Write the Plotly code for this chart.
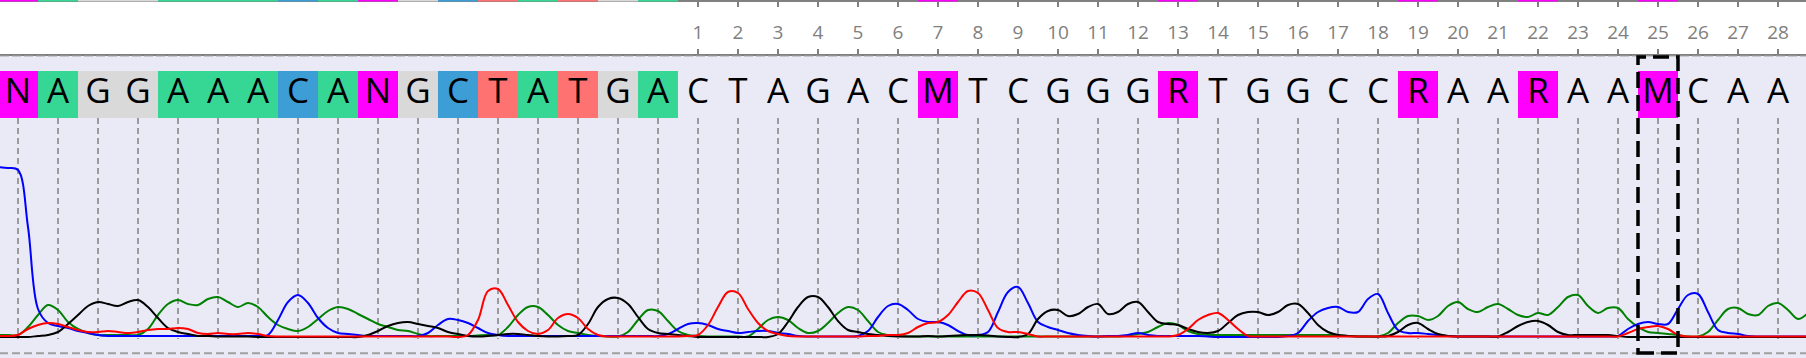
import numpy as np
import plotly.graph_objects as go

# ---------------- data ----------------
bases = list("NAGGAAACANGCTATGA" "CTAGACMTCGGGRTGGCCRAARAAMCAA")
positions = list(range(-16, 29))          # base-call positions; 1..28 are numbered on the ruler
ruler_ticks = list(range(1, 29))
ruler_labels = [str(t) for t in ruler_ticks]
selected_position = 25
scan_start = -16.5                        # position of first trace sample
scan_step = 0.25                          # trace sampling interval (in base positions)

signal_A = [2, 2,
    2, 10, 22, 32,  27, 15, 8, 4,  2, 2, 2, 2,  2, 8, 22, 33,  37, 33, 32, 38,
    40, 35, 30, 34,  30, 20, 12, 8,  6, 10, 18, 26,  30, 28, 23, 18,  13, 10, 7, 6,
    3, 1, 1, 1,  1, 1, 1.5, 2,  2, 10, 22, 30,  30, 22, 12, 6,  4, 2, 1, 0.5,
    0.5, 5, 17, 27,  26, 16, 6, 2,  1, 0.5, 0.5, 0.5,  0.5, 0.5, 8, 17,  20, 17, 9, 4,
    6, 14, 24, 30,  27, 16, 5, 2,  1, 0.5, 0.5, 0.5,  0.5, 0.5, 0.5, 0.5,  0.5, 0.5, 0.5, 0.5,
    0.5, 0.5, 0.5, 0.5,  0.5, 0.5, 0.5, 0.5,  0.5, 0.5, 0.5, 1.5,  3, 5, 10, 14,  12, 6, 3, 2,
    2, 2, 2, 2,  2, 2, 2, 2,  2, 2, 2, 2,  2, 1, 0.5, 0.5,  0.5, 4, 14, 21,
    21, 17, 21, 31,  35, 28, 25, 30,  33, 28, 22, 20,  24, 22, 30, 40,  42, 31, 24, 29,
    29, 18, 10, 5,  4, 3, 2, 0.5,  0.5, 5, 17, 28,  29, 23, 22, 31,  34, 27, 18, 24]

signal_C = [170, 169,
    167, 110, 28, 14,  11, 9, 6, 4,  2, 1, 1, 1,  1, 1, 1, 1,  1, 1, 1, 1,
    1, 1, 1, 1,  1, 2, 17, 35,  42, 34, 19, 9,  4, 3, 2, 1,  1, 1, 1, 1,
    1, 4, 12, 18,  17, 14, 9, 4,  2, 1, 1, 1,  1, 1, 1, 1,  1, 1, 1, 1,
    1, 1, 1, 1,  1, 3, 8, 13,  14, 12, 8, 6,  4, 5, 6, 6,  4, 3, 1, 0.5,
    0.5, 0.5, 0.5, 0.5,  1, 6, 20, 31,  33, 27, 18, 15,  15, 12, 6, 2,  2, 5, 25, 45,
    50, 34, 15, 10,  7, 4, 2, 1,  0.5, 1, 1, 2,  4, 2, 1, 1,  1, 1, 1, 0.5,
    0, 0, 0, 0,  0, 0, 0, 1,  4, 16, 25, 29,  30, 25, 25, 38,  43, 24, 7, 4,
    4, 3, 2, 1,  0.5, 0.5, 0.5, 0.5,  0.5, 0.5, 0.5, 0.5,  0.5, 0.5, 0.5, 0.5,  0.5, 0.5, 0.5, 0.5,
    1, 8, 13, 15,  13, 13, 28, 42,  43, 25, 7, 4,  3, 1, 0.5, 0.5,  0.5, 0.5, 0.5, 0.5]

signal_G = [0, 0,
    0, 0, 1, 2,  5, 13, 22, 31,  35, 33, 31, 35,  37, 30, 19, 9,  5, 3, 1, 1,
    0.5, 0.5, 0.5, 0.5,  0, 0, 0, 0,  0, 0, 0, 0,  0, 0, 0, 2,  6, 11, 14, 15,
    13, 11, 9, 5,  3, 1, 0.5, 1,  2, 3, 3, 2,  1, 0.5, 0.5, 1,  2, 13, 30, 38,
    39, 33, 20, 8,  4, 3, 2, 1,  0, 0, 0, 0,  0, 0, 0, 0,  3, 15, 30, 40,
    40, 30, 16, 7,  5, 3, 2, 1,  0.5, 0.5, 0.5, 1,  0.5, 1, 1.5, 2,  2, 1.5, 0.5, 0,
    0, 3, 18, 26,  27, 21, 23, 30,  33, 23, 25, 33,  35, 25, 15, 13,  12, 8, 5, 4,
    6, 14, 22, 25,  25, 22, 25, 32,  33, 24, 12, 5,  2, 1, 0.5, 0.5,  0.5, 1, 5, 12,
    14, 8, 3, 1,  0.5, 0.5, 0.5, 0.5,  0.5, 5, 11, 15,  16, 12, 5, 2,  2, 2, 2, 2,
    1, 0, 0, 0,  0, 0, 0, 0,  0, 0, 0, 0,  0, 0, 0, 0,  0, 0, 0, 0]

signal_T = [1, 1,
    2, 8, 12, 14,  13, 10, 7, 5,  5, 6, 5, 4,  5, 7, 8, 8,  9, 8, 4, 3,
    4, 3, 3, 4,  3, 1, 0.5, 0.5,  0.5, 0.5, 0.5, 0.5,  0.5, 0.5, 0.5, 0.5,  0.5, 0.5, 0.5, 0.5,
    0.5, 0.5, 0.5, 0.5,  0, 2, 17, 46,  48, 32, 15, 6,  3, 7, 19, 23,  19, 8, 2, 0.5,
    0.5, 0.5, 0.5, 0.5,  0.5, 0.5, 0.5, 1,  2, 12, 30, 45,  44, 28, 14, 6,  3, 1, 0.5, 0.5,
    0.5, 0.5, 0.5, 0.5,  0.5, 1, 1, 2,  2, 4, 10, 14,  15, 22, 35, 46,  44, 27, 9, 5,
    5, 3, 0.5, 0.5,  0.5, 0.5, 0.5, 0.5,  0.5, 0.5, 0.5, 0.5,  0.5, 0.5, 0.5, 0.5,  2, 8, 17, 22,
    24, 17, 8, 1,  0.5, 0.5, 0.5, 0.5,  0.5, 0.5, 0.5, 0.5,  0.5, 0.5, 0.5, 0.5,  0.5, 0.5, 0.5, 0.5,
    0.5, 0.5, 0.5, 0.5,  0.5, 0.5, 0.5, 0.5,  0.5, 0.5, 0.5, 0.5,  0.5, 0.5, 0.5, 0.5,  0.5, 0.5, 0.5, 0.5,
    0.5, 4, 8, 10,  11, 8, 2, 0.5,  0.5, 0.5, 0.5, 0.5,  0.5, 0.5, 0.5, 0.5,  0.5, 0.5, 0.5, 0.5]

# ---------------- styling ----------------
W, H = 1806, 358
def pv(px):
    return 1 - px / H

x_range = [-16.45, 28.7]
box_fill = {"A": "#36D695", "C": "#3C9ED5", "G": "#D9D9D9", "T": "#FF7272"}
ambiguous_fill = "#FF00FF"
trace_colors = {"A": "#008000", "C": "#0000FF", "G": "#000000", "T": "#FF0000"}
lavender = "#E9EAF6"

def fill_for(b, p):
    if b not in "ACGT":
        return ambiguous_fill
    if p <= 0:
        return box_fill[b]
    return "rgba(0,0,0,0)"

fills = [fill_for(b, p) for b, p in zip(bases, positions)]

fig = go.Figure()

# base-call boxes and letters (main subplot, y in pixel-like units from bottom)
fig.add_trace(go.Bar(x=positions, y=[47.7] * len(positions), base=240.3, width=1,
                     marker=dict(color=fills, line=dict(width=0)),
                     xaxis="x", yaxis="y", hoverinfo="skip"))
fig.add_trace(go.Scatter(x=positions, y=[264] * len(positions), text=bases, mode="text",
                         textposition="middle center",
                         textfont=dict(size=35, color="black", family="Open Sans"),
                         xaxis="x", yaxis="y", hoverinfo="skip"))

# chromatogram traces
for name, sig in [("A", signal_A), ("C", signal_C), ("G", signal_G), ("T", signal_T)]:
    xs = scan_start + scan_step * np.arange(len(sig))
    fig.add_trace(go.Scatter(x=xs, y=sig, mode="lines",
                             line=dict(color=trace_colors[name], width=2, shape="spline", smoothing=1),
                             xaxis="x3", yaxis="y3", name=name))

# ruler placeholder trace
fig.add_trace(go.Scatter(x=[ruler_ticks[0]], y=[0.5], mode="markers", marker=dict(opacity=0),
                         xaxis="x2", yaxis="y2", hoverinfo="skip"))

# thin colored strip at very top
fig.add_trace(go.Bar(x=positions, y=[1] * len(positions), base=0, width=1,
                     marker=dict(color=fills, line=dict(width=0)),
                     xaxis="x4", yaxis="y4", hoverinfo="skip"))

shapes = [
    dict(type="rect", xref="paper", yref="paper", x0=0, x1=1, y0=pv(54.5), y1=1,
         fillcolor="white", line=dict(width=0), layer="below"),
    dict(type="line", xref="paper", yref="y", x0=0, x1=1, y0=302, y1=302,
         line=dict(color="#A3A3A3", width=1, dash="9px,3px"), layer="above"),
    dict(type="line", xref="paper", yref="y", x0=0, x1=1, y0=4.7, y1=4.7,
         line=dict(color="#A0A0A0", width=2, dash="8px,4px"), layer="above"),
    dict(type="rect", xref="x", yref="y", x0=selected_position - 0.5, x1=selected_position + 0.5,
         y0=5, y1=301, line=dict(color="black", width=3.5, dash="16px,7px"),
         fillcolor="rgba(0,0,0,0)", layer="above"),
]

fig.update_layout(
    width=W, height=H, autosize=False, margin=dict(l=0, r=0, t=0, b=0, pad=0),
    template="none", paper_bgcolor="white", plot_bgcolor=lavender,
    showlegend=False, bargap=0, hovermode=False,
    font=dict(family="Open Sans"),
    shapes=shapes,
    xaxis=dict(domain=[0, 1], range=x_range, visible=False, anchor="y"),
    yaxis=dict(domain=[0, pv(54.5)], range=[0, 303.5], visible=False, anchor="x"),
    xaxis2=dict(domain=[0, 1], range=x_range, anchor="y2", tickmode="array",
                tickvals=ruler_ticks, ticktext=ruler_labels, ticks="inside", ticklen=5,
                tickwidth=2, tickcolor="#808080", showline=True, linecolor="#808080",
                linewidth=2, mirror="ticks", ticklabelposition="inside",
                ticklabelstandoff=7,
                tickfont=dict(size=19, color="#808080", family="Open Sans"),
                showgrid=False, zeroline=False),
    yaxis2=dict(domain=[pv(53.5), pv(2)], range=[0, 1], visible=False, anchor="x2"),
    xaxis3=dict(domain=[0, 1], range=x_range, anchor="y3", tickmode="array",
                tickvals=positions, showticklabels=False, ticks="", showgrid=True,
                gridcolor="#9B9B9B", gridwidth=2, griddash="6px,4px",
                zeroline=False, showline=False),
    yaxis3=dict(domain=[pv(339), pv(118)], range=[-2, 219], visible=False, anchor="x3"),
    xaxis4=dict(domain=[0, 1], range=x_range, visible=False, anchor="y4"),
    yaxis4=dict(domain=[pv(1.5), 1], range=[0, 1], visible=False, anchor="x4"),
)

fig.write_html("out.html", config={"displayModeBar": False},
               post_script="document.body.style.margin='0';document.body.style.overflow='hidden';")
